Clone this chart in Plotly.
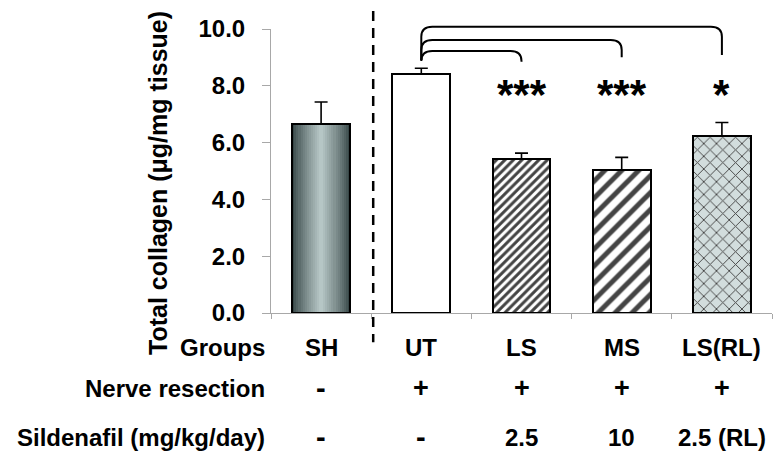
import numpy as np
import plotly.graph_objects as go

# ---- data ----
groups = ["SH", "UT", "LS", "MS", "LS(RL)"]
collagen = [6.66, 8.41, 5.42, 5.03, 6.23]
sem = [0.77, 0.21, 0.21, 0.45, 0.48]
nerve_resection = ["-", "+", "+", "+", "+"]
sildenafil = ["-", "-", "2.5", "10", "2.5 (RL)"]
significance = ["", "", "***", "***", "*"]
row_headers = ["Groups", "Nerve resection", "Sildenafil (mg/kg/day)"]
y_ticks = [0, 2, 4, 6, 8, 10]
# comparisons drawn as brackets (from group index -> to group index)
comparisons = [(1, 2), (1, 3), (1, 4)]

x = list(range(len(groups)))
BW = 0.575
FAM = "Arial, Liberation Sans, sans-serif"
FONT = dict(family=FAM, size=24, color="black", weight="bold")

fig = go.Figure()

# gradient for SH bar (stacked narrower layers)
edge = np.array([0x36, 0x46, 0x46])
center = np.array([0xb6, 0xc6, 0xc5])
N = 14
for k in range(N):
    t = k / (N - 1)
    c = edge + (center - edge) * (t ** 0.8)
    w = BW * (1 - k / N)
    fig.add_trace(go.Bar(
        x=[x[0]], y=[collagen[0]], width=w,
        marker=dict(color="rgb(%d,%d,%d)" % tuple(c.astype(int)), line=dict(width=0)),
        hoverinfo="skip", showlegend=False))

# main bars
fig.add_trace(go.Bar(
    x=x, y=collagen, width=BW,
    marker=dict(
        color=["rgba(0,0,0,0)", "white", "white", "white", "#d2dddd"],
        line=dict(color="black", width=2),
        pattern=dict(
            shape=["", "", "/", "/", "x"],
            size=[8, 8, 6, 12, 9],
            solidity=[0.3, 0.3, 0.5, 0.42, 0.2],
            fgcolor="black", fgopacity=1,
            bgcolor=["rgba(0,0,0,0)", "white", "white", "white", "#d2dddd"],
        ),
    ),
    error_y=dict(type="data", symmetric=False, array=sem, arrayminus=[0] * len(sem),
                 color="black", thickness=1.6, width=6.5),
    showlegend=False))

ann = []
# group labels and table rows
row_y = [-0.121, -0.265, -0.438]
rows = [groups, nerve_resection, sildenafil]
for ry, header, vals in zip(row_y, row_headers, rows):
    ann.append(dict(x=-0.008, y=ry, xref="paper", yref="paper", text=header,
                    showarrow=False, xanchor="right", yanchor="middle", font=FONT))
    for xi, v in zip(x, vals):
        f = dict(FONT)
        if v == "-":
            f["size"] = 29
        elif v == "+":
            f["size"] = 27
        ann.append(dict(x=xi, y=ry, xref="x", yref="paper", text=v,
                        showarrow=False, xanchor="center", yanchor="middle", font=f))

# significance stars
for xi, s in zip(x, significance):
    if s:
        ann.append(dict(x=xi, y=7.68, xref="x", yref="y", text=s, showarrow=False,
                        xanchor="center", yanchor="middle",
                        font=dict(family=FAM, size=42, color="black", weight="bold")))

# y title
ann.append(dict(x=-0.226, y=0.457, xref="paper", yref="paper",
                text="Total collagen (μg/mg tissue)", textangle=-90, showarrow=False,
                xanchor="center", yanchor="middle",
                font=dict(family=FAM, size=25, color="black", weight="bold")))

shapes = []
# dashed separator between SH and treated groups
shapes.append(dict(type="line", xref="x", yref="paper", x0=0.52, x1=0.52,
                   y0=1.0635, y1=-0.103, line=dict(color="black", width=2.5, dash="10px,7px")))

# brackets
bracket_top = [0.9225, 0.9612, 1.0081]
bracket_end = [0.8847, 0.9003, 0.9084]
left_bottom = 0.8907
rx, ry_ = 0.11, 0.035
for (a, b), yt, ye in zip(comparisons, bracket_top, bracket_end):
    path = (f"M {a} {left_bottom} L {a} {yt - ry_} Q {a} {yt} {a + rx} {yt} "
            f"L {b - rx} {yt} Q {b} {yt} {b} {yt - ry_} L {b} {ye}")
    shapes.append(dict(type="path", xref="x", yref="paper", path=path,
                       line=dict(color="black", width=2)))

fig.update_layout(
    width=776, height=454,
    margin=dict(l=271, r=4.3, t=29, b=141.3, autoexpand=False),
    plot_bgcolor="white", paper_bgcolor="white",
    barmode="overlay", bargap=0,
    annotations=ann, shapes=shapes,
    xaxis=dict(range=[-0.5, 4.5], tickvals=[i - 0.5 for i in range(len(groups) + 1)],
               showticklabels=False, ticks="outside", ticklen=5, tickcolor="#a8a8a8",
               showline=True, linecolor="#a8a8a8", linewidth=1, showgrid=False, zeroline=False),
    yaxis=dict(range=[0, 10], tickvals=y_ticks, tickformat=".1f",
               ticks="outside", ticklen=8, tickcolor="#a8a8a8", ticklabelstandoff=12,
               showline=True, linecolor="#a8a8a8", linewidth=1, showgrid=False, zeroline=False,
               tickfont=FONT),
)

fig.write_html("out.html", config={"displayModeBar": False},
               post_script="document.body.style.margin='0';document.body.style.overflow='hidden';")
